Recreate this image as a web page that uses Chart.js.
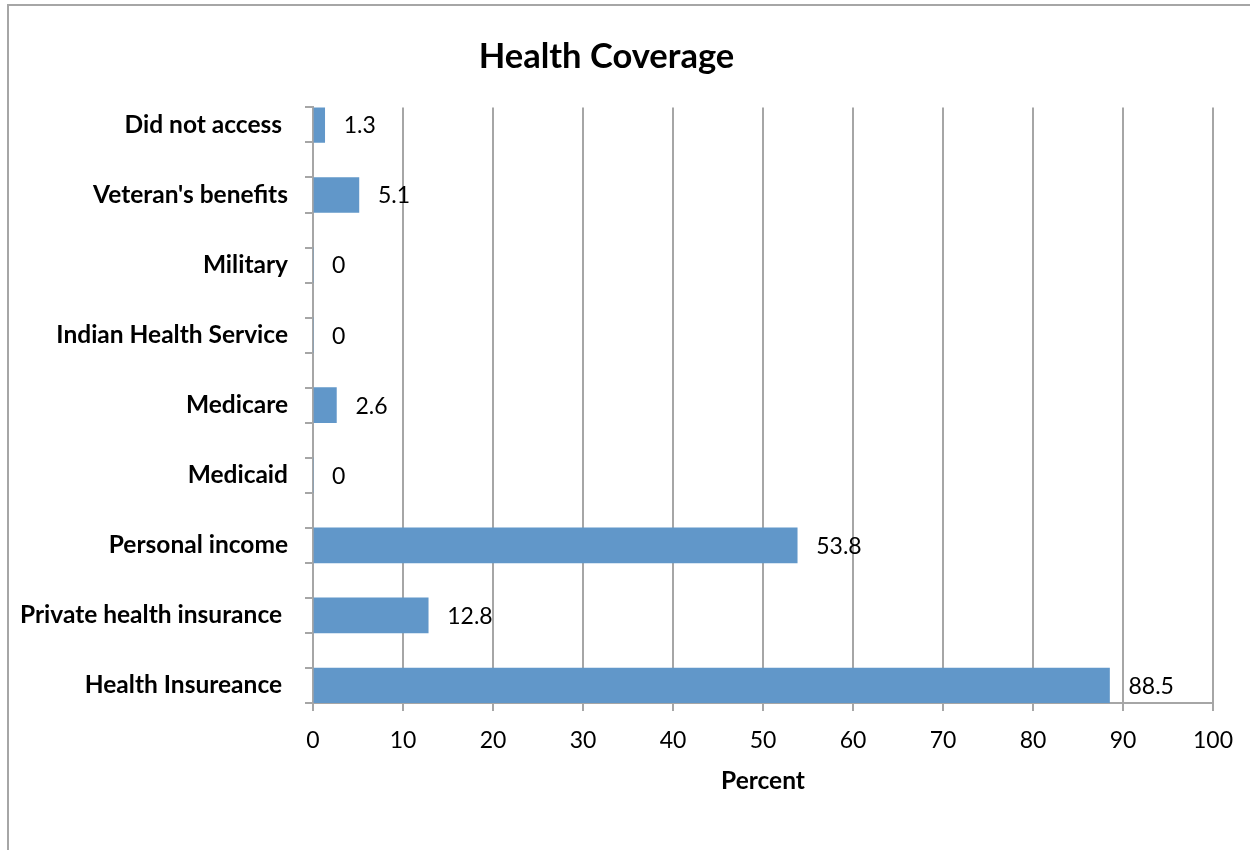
<!DOCTYPE html>
<html>
<head>
<meta charset="utf-8">
<script src="https://cdn.jsdelivr.net/npm/chart.js@4"></script>
<style>
  html, body { margin: 0; padding: 0; background: #fff; overflow: hidden; }
  #frame { position: absolute; left: 7px; top: 4px; width: 1300px; height: 900px; border: 2px solid #a6a6a6; }
  #wrap { position: absolute; left: 0; top: 0; width: 1250px; height: 850px; }
</style>
</head>
<body>
<div id="frame"></div>
<div id="wrap"><canvas id="coverageChart"></canvas></div>
<script>
/* categories, top to bottom */
const CATEGORIES = [
  'Did not access ',
  "Veteran's benefits",
  'Military',
  'Indian Health Service',
  'Medicare',
  'Medicaid',
  'Personal income',
  'Private health insurance ',
  'Health Insureance ',
];
const PERCENTS = [1.3, 5.1, 0, 0, 2.6, 0, 53.8, 12.8, 88.5];
const X_TICKS = [0, 10, 20, 30, 40, 50, 60, 70, 80, 90, 100];

const BAR_COLOR  = '#6197C9';
const GRID_COLOR = '#a6a6a6';
const FONT       = 'Lato, "Open Sans", sans-serif';

/* value labels right of each bar */
const valueLabels = {
  id: 'valueLabels',
  afterDatasetsDraw(chart) {
    const ctx = chart.ctx;
    const meta = chart.getDatasetMeta(0);
    ctx.save();
    ctx.font = '23px ' + FONT;
    ctx.fillStyle = '#000';
    ctx.textAlign = 'left';
    ctx.textBaseline = 'middle';
    meta.data.forEach((bar, i) => {
      ctx.fillText(String(PERCENTS[i]), bar.x + 19, bar.y + 1);
    });
    ctx.restore();
  },
};

new Chart(document.getElementById('coverageChart'), {
  type: 'bar',
  data: {
    datasets: [{
      label: 'Percent',
      data: PERCENTS.map((v, i) => ({ x: v, y: i })),
      backgroundColor: BAR_COLOR,
      borderWidth: 0,
      barThickness: 35,
    }],
  },
  options: {
    indexAxis: 'y',
    responsive: true,
    maintainAspectRatio: false,
    animation: false,
    layout: { padding: { left: 0, right: 37, top: 0, bottom: 0 } },
    plugins: {
      legend: { display: false },
      tooltip: { enabled: false },
      title: {
        display: true,
        text: 'Health Coverage',
        color: '#000',
        font: { family: FONT, size: 34.5, weight: 'bold' },
        padding: { top: 36, bottom: 30 },
      },
    },
    scales: {
      x: {
        type: 'linear',
        min: 0, max: 100,
        afterBuildTicks: s => { s.ticks = X_TICKS.map(v => ({ value: v })); },
        afterFit: s => { s.height = 147; },
        ticks: { color: '#000', font: { family: FONT, size: 23 }, padding: 16 },
        grid: { color: GRID_COLOR, lineWidth: 2, tickLength: 8, tickColor: GRID_COLOR },
        border: { color: GRID_COLOR, width: 2 },
        title: {
          display: true,
          text: 'Percent',
          color: '#000',
          font: { family: FONT, size: 24.5, weight: 'bold' },
          padding: { top: 0, bottom: 54 },
        },
      },
      y: {
        type: 'linear',
        reverse: true,
        offset: false,
        min: -0.25, max: CATEGORIES.length - 0.75,
        afterBuildTicks: s => {
          const t = [];
          CATEGORIES.forEach((_, i) => { t.push({ value: i - 0.25 }, { value: i }, { value: i + 0.25 }); });
          s.ticks = t;
        },
        afterFit: s => { s.width = 313; },
        ticks: {
          autoSkip: false,
          color: '#000',
          font: { family: FONT, size: 24.5, weight: 'bold' },
          padding: 17,
          callback: v => Number.isInteger(v) ? CATEGORIES[v] : '',
        },
        grid: {
          offset: false,
          drawOnChartArea: false,
          tickLength: 8,
          lineWidth: 2,
          tickColor: c => (c.tick && Number.isInteger(c.tick.value)) ? 'rgba(0,0,0,0)' : GRID_COLOR,
        },
        border: { color: GRID_COLOR, width: 2 },
      },
    },
  },
  plugins: [valueLabels],
});
</script>
</body>
</html>
